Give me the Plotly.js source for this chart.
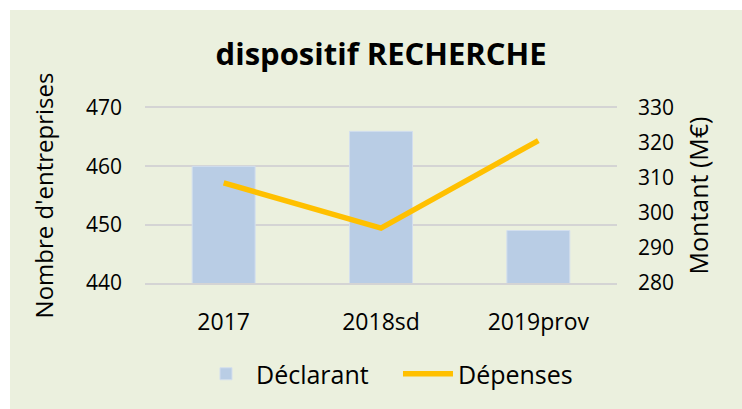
<!DOCTYPE html>
<html>
<head>
<meta charset="utf-8">
<script src="https://cdn.plot.ly/plotly-3.0.1.min.js"></script>
<style>
  html, body { margin: 0; padding: 0; background: #ffffff; width: 742px; height: 409px; overflow: hidden; }
  #chart { position: absolute; left: 10px; top: 10px; width: 732px; height: 399px; }
</style>
</head>
<body>
<div id="chart"></div>
<script>
const categories = ["2017", "2018sd", "2019prov"];
const declarant = [460, 466, 449];
const depenses = [308.6, 295.7, 320.7];
const leftTicks = [440, 450, 460, 470];
const rightTicks = [280, 290, 300, 310, 320, 330];

const FONT = "Open Sans, Noto Sans, sans-serif";
const GRID = "#D4D4D4";

const traces = [
  {
    type: "bar",
    name: "Déclarant",
    x: categories,
    y: declarant,
    width: 0.4,
    marker: { color: "#B9CDE5", line: { color: "#D3DFEE", width: 1 } },
    yaxis: "y",
    hoverinfo: "x+y"
  },
  {
    type: "scatter",
    mode: "lines",
    name: "Dépenses",
    x: categories,
    y: depenses,
    line: { color: "#FFC000", width: 5.5 },
    yaxis: "y2",
    hoverinfo: "x+y"
  }
];

const layout = {
  width: 732,
  height: 399,
  margin: { l: 135, r: 125, t: 98, b: 126 },
  paper_bgcolor: "#EBF0DE",
  plot_bgcolor: "#EBF0DE",
  font: { family: FONT, color: "#000000", size: 20 },
  title: {
    text: "<b>dispositif RECHERCHE</b>",
    font: { family: FONT, size: 31, color: "#000000" },
    x: 0.507, xanchor: "center",
    yref: "container", y: 0.89, yanchor: "middle"
  },
  showlegend: true,
  legend: {
    orientation: "h",
    x: 0.536, xanchor: "center",
    y: -0.52, yanchor: "middle",
    font: { family: FONT, size: 25, color: "#000000" },
    bgcolor: "rgba(0,0,0,0)",
    traceorder: "normal",
    itemwidth: 50,
    entrywidth: 137
  },
  xaxis: {
    type: "category",
    tickvals: categories,
    ticktext: categories,
    showgrid: false,
    zeroline: false,
    showline: true,
    mirror: true,
    linecolor: GRID,
    linewidth: 2,
    ticks: "",
    ticklabelstandoff: 17,
    tickfont: { family: FONT, size: 23, color: "#000000" }
  },
  yaxis: {
    range: [440, 470],
    tickvals: leftTicks,
    ticktext: leftTicks.map(String),
    showgrid: true,
    gridcolor: GRID,
    gridwidth: 2,
    zeroline: false,
    showline: false,
    ticks: "",
    ticklabelstandoff: 22,
    tickfont: { family: FONT, size: 21, color: "#000000" },
    title: { text: "Nombre d'entreprises", font: { family: FONT, size: 24, color: "#000000" }, standoff: 25 }
  },
  yaxis2: {
    overlaying: "y",
    side: "right",
    range: [280, 330],
    tickvals: rightTicks,
    ticktext: rightTicks.map(String),
    showgrid: false,
    zeroline: false,
    showline: false,
    ticks: "",
    ticklabelstandoff: 20,
    tickfont: { family: FONT, size: 21, color: "#000000" },
    title: { text: "Montant (M€)", font: { family: FONT, size: 25, color: "#000000" }, standoff: 17 }
  }
};

Plotly.newPlot("chart", traces, layout, { displayModeBar: false, staticPlot: true });
</script>
</body>
</html>
